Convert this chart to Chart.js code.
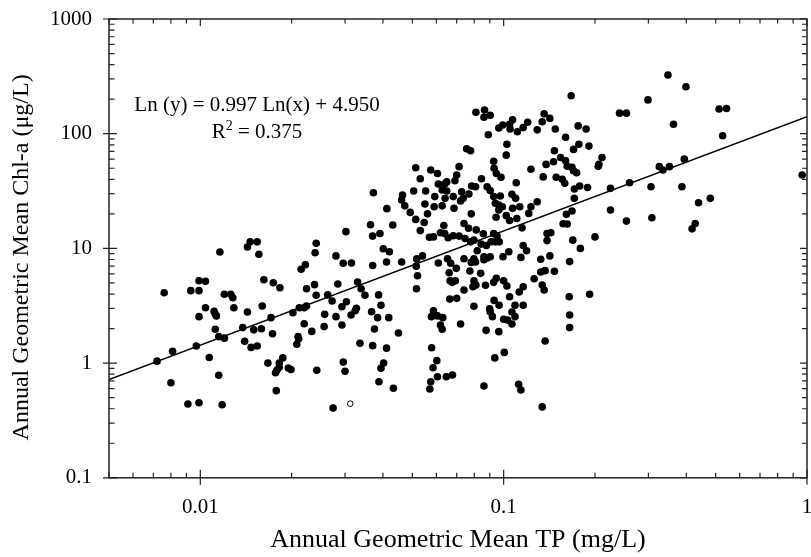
<!DOCTYPE html>
<html>
<head>
<meta charset="utf-8">
<title>Chl-a vs TP</title>
<script src="https://cdn.jsdelivr.net/npm/chart.js@4.4.0/dist/chart.umd.min.js"></script>
<style>
  html, body { margin: 0; padding: 0; overflow: hidden; background: #fff; }
  #wrap { position: absolute; left: 0; top: 0; width: 812px; height: 557px; }
</style>
</head>
<body>
<div id="wrap"><canvas id="myChart" width="812" height="557"></canvas></div>
<script>
//*************** data *******************

// annual geometric mean TP (mg/L), one entry per lake-year
var tpValues = [
  // low TP lakes
  0.0076, 0.0093, 0.0099, 0.0099, 0.0104, 0.0116, 0.0099, 0.0104, 0.0111, 0.0112,
  0.0113, 0.0112, 0.0120, 0.0126, 0.0128, 0.0129, 0.0143, 0.0143, 0.0146, 0.0154,
  0.0156, 0.0162, 0.0160, 0.0174, 0.0183, 0.0171, 0.0173, 0.0138, 0.0150, 0.0159,
  0.0140, 0.0147, 0.0154, 0.0115, 0.0120, 0.0097, 0.0081, 0.0072, 0.0107, 0.0115,
  0.0080, 0.0091, 0.0099, 0.0118, 0.0167, 0.0177, 0.0179, 0.0182, 0.0182, 0.0187,
  0.0195, 0.0199, 0.0178, 0.0202, 0.0212, 0.0220, 0.0224, 0.0220, 0.0233, 0.0210,
  0.0211, 0.0208, 0.0215, 0.0222, 0.0224, 0.0238, 0.0241, 0.0239, 0.0241, 0.0263,
  0.0272, 0.0280, 0.0296, 0.0284, 0.0303, 0.0293, 0.0280, 0.0257, 0.0256, 0.0293,
  0.0296, 0.0300, 0.0242, 0.0274, 0.0302,
  // upper cloud
  0.167, 0.241, 0.254, 0.081, 0.0865, 0.0861, 0.0903, 0.089, 0.0964, 0.0993,
  0.1046, 0.107, 0.105, 0.111, 0.116, 0.120, 0.129, 0.134, 0.136, 0.142,
  0.148, 0.160, 0.176, 0.187, 0.1025, 0.102, 0.0755, 0.0778, 0.0927, 0.093,
  0.0946, 0.098, 0.110, 0.123, 0.138, 0.146, 0.147, 0.154, 0.160, 0.162,
  0.168, 0.170, 0.174, 0.170, 0.177, 0.191, 0.211, 0.206, 0.205, 0.135,
  0.149, 0.156, 0.159, 0.171, 0.178, 0.189, 0.171, 0.168, 0.161, 0.157,
  0.162, 0.225, 0.225, 0.254, 0.169, 0.179, 0.200, 0.139, 0.143, 0.139,
  0.142, 0.1325, 0.115, 0.116, 0.119, 0.104, 0.0995, 0.0513, 0.0531, 0.0575,
  0.0605, 0.0713, 0.070, 0.0691, 0.0649, 0.0609, 0.0639, 0.0627, 0.0649, 0.0593,
  0.0553, 0.0505, 0.0464, 0.0461, 0.0472, 0.0492, 0.0412, 0.0372, 0.0364, 0.037,
  0.0391, 0.0431, 0.0401, 0.042, 0.0513, 0.0531, 0.0547, 0.0561, 0.055, 0.059,
  0.0627, 0.0641, 0.0682, 0.0686, 0.0727, 0.0721, 0.0735, 0.0768, 0.0784, 0.0808,
  0.0845, 0.0882, 0.0903, 0.0927, 0.0975, 0.0939, 0.0964, 0.099, 0.0964, 0.1065,
  0.1095, 0.107, 0.113, 0.123, 0.129, 0.121, 0.102, 0.1046, 0.1105, 0.0944,
  0.0782, 0.074, 0.0766, 0.0812, 0.0857, 0.0927, 0.0951, 0.094, 0.0967, 0.0909,
  0.0877, 0.0843, 0.0798, 0.0778, 0.0746, 0.0713, 0.0682, 0.0656, 0.0639, 0.0619,
  0.0635, 0.0587, 0.0569, 0.0818, 0.0861, 0.0903, 0.074, 0.0798, 0.0653, 0.054,
  0.0517,
  // lower cloud
  0.0315, 0.037, 0.0411, 0.0461, 0.0515, 0.052, 0.0516, 0.033, 0.0339, 0.0349,
  0.0314, 0.0324, 0.0327, 0.0387, 0.0394, 0.0367, 0.0384, 0.0418, 0.0375, 0.045,
  0.0336, 0.037, 0.0411, 0.0394, 0.0402, 0.0388, 0.0433, 0.0609, 0.0669, 0.0698,
  0.0661, 0.0666, 0.0677, 0.0693, 0.074, 0.0664, 0.070, 0.0774, 0.0782, 0.0808,
  0.084, 0.0861, 0.0882, 0.0798, 0.081, 0.0792, 0.0871, 0.0927, 0.0946, 0.0798,
  0.093, 0.0966, 0.0899, 0.0903, 0.0918, 0.0875, 0.0964, 0.100, 0.1025, 0.1046,
  0.109, 0.1065, 0.109, 0.100, 0.103, 0.1065, 0.116, 0.1125, 0.116, 0.126,
  0.134, 0.136, 0.114, 0.1325, 0.137, 0.147, 0.165, 0.1645, 0.165, 0.165,
  0.192, 0.137, 0.1005, 0.0935, 0.0861, 0.112, 0.114, 0.134, 0.0578, 0.0605,
  0.063, 0.0587, 0.0619, 0.0627, 0.0721, 0.0579, 0.0602, 0.0585, 0.0605, 0.0575,
  0.0571, 0.0647, 0.0678,
  // high TP lakes
  0.348, 0.399, 0.299, 0.363, 0.513, 0.543, 0.527, 0.260, 0.306, 0.326,
  0.335, 0.352, 0.394, 0.387, 0.439, 0.480, 0.428, 0.418, 0.308, 0.964
];

// annual geometric mean Chl-a (ug/L), same order as tpValues
var chlValues = [
  4.11, 4.28, 4.28, 5.23, 5.17, 9.3, 2.54, 3.04, 2.83, 2.68,
  2.58, 1.97, 3.98, 3.98, 3.71, 3.04, 2.79, 10.3, 11.4, 11.4,
  8.9, 5.33, 3.15, 5.02, 4.54, 2.49, 1.80, 2.04, 1.95, 1.99,
  1.55, 1.37, 1.41, 1.70, 1.65, 1.41, 1.27, 1.04, 1.12, 0.784,
  0.674, 0.44, 0.451, 0.434, 1.0, 0.825, 0.87, 1.0, 0.919, 1.11,
  0.906, 0.88, 0.575, 2.75, 3.04, 3.04, 3.15, 2.2, 1.89, 1.70,
  1.63, 1.46, 6.58, 7.2, 4.45, 4.83, 3.9, 9.17, 11.1, 3.93,
  3.48, 8.6, 7.42, 4.9, 3.43, 3.1, 2.54, 2.66, 2.08, 2.15,
  1.02, 0.85, 0.865, 0.406, 14.0,

  214, 151, 151, 154, 161, 139, 145, 98, 112, 119,
  121, 132, 110, 104, 113, 126, 108, 127, 149, 136,
  110, 93, 117, 110, 81, 65, 74, 71, 57.5, 50,
  45, 41.7, 37.4, 49, 54, 57, 71, 62, 58, 52,
  51, 47.6, 45.7, 73, 81, 78, 62, 54, 52, 42,
  41.7, 40, 37, 33, 35, 34, 27.3, 21.2, 19.8, 16.4,
  16.3, 33.4, 21.6, 17.3, 11.8, 10.0, 12.6, 13.5, 13.7, 11.7,
  8.6, 8.04, 15.1, 10.6, 9.55, 9.35, 8.45, 50.5, 40.5, 48.3,
  45, 51.6, 43.7, 38.9, 38, 36.4, 36.4, 32.3, 31.7, 28.3,
  31.7, 31.7, 29.2, 26.4, 23.5, 20.6, 22.2, 30.6, 16.1, 12.8,
  13.5, 16.0, 9.94, 9.35, 17.9, 14.3, 16.8, 20, 24.4, 23.1,
  23.5, 27.3, 28.3, 22.4, 31.2, 25.9, 27.3, 29.8, 35, 34.5,
  40.5, 34.5, 31.9, 28.3, 28.6, 24.7, 23.9, 23.1, 21.6, 29.6,
  27.3, 22.4, 23.1, 23.1, 25.5, 20.2, 19.3, 17.5, 18.2, 18.7,
  20, 16.5, 15, 14.5, 13.4, 13.5, 12.8, 11.4, 11.4, 11.4,
  10.6, 10.9, 11.8, 11.4, 12.2, 12.8, 12.9, 12.4, 13.5, 13.7,
  15.8, 12.6, 12.5, 9.55, 8.45, 8.45, 8.13, 8.13, 8.13, 8.6,
  8.1,

  7.45, 7.1, 7.6, 7.6, 7.0, 5.78, 4.45, 5.1, 4.45, 3.9,
  2.63, 2.86, 3.0, 3.93, 3.19, 2.8, 2.49, 2.49, 1.98, 1.83,
  1.49, 1.42, 1.35, 0.90, 1.0, 0.688, 0.603, 7.45, 7.42, 6.7,
  6.14, 5.23, 5.06, 5.23, 4.34, 3.62, 3.67, 6.35, 7.55, 7.6,
  6.06, 7.97, 8.25, 5.23, 4.8, 4.63, 4.77, 5.06, 5.49, 3.13,
  3.52, 3.19, 2.98, 2.8, 2.54, 1.93, 1.88, 5.23, 4.7, 3.79,
  3.19, 2.79, 2.54, 2.41, 2.37, 2.19, 3.19, 4.17, 4.63, 5.44,
  4.8, 4.34, 8.35, 6.23, 6.4, 6.32, 7.67, 3.79, 2.63, 2.04,
  3.98, 1.56, 1.24, 1.11, 0.632, 0.654, 0.583, 0.415, 2.54, 2.58,
  2.49, 2.86, 2.15, 1.97, 2.19, 1.36, 1.05, 0.91, 0.76, 0.688,
  0.595, 0.76, 0.787,

  325, 257, 197, 121, 164, 166, 96, 37.4, 34.5, 51.6,
  48.3, 51.6, 60, 34.5, 25, 27.3, 16.5, 14.8, 18.5, 43.7
];

// the one open-circle point
var openTp = [0.0312];
var openChl = [0.443];

// regression line end points (Ln(y) = 0.997 Ln(x) + 4.950)
var fitTp = [0.005, 1];
var fitChl = [0.72, 141];

var xTicks = [0.01, 0.1, 1];
var yTicks = [0.1, 1, 10, 100, 1000];

var fitLabel = "Ln (y) = 0.997 Ln(x) + 4.950";
var r2Label = "0.375";

//*************** helpers *******************

function toPoints(xs, ys) {
  var out = [];
  var n = Math.min(xs.length, ys.length);
  for (var i = 0; i < n; i++) {
    out.push({ x: xs[i], y: ys[i] });
  }
  return out;
}

var serif = '"Liberation Serif", "Times New Roman", Times, serif';

// frame + log ticks on all four sides, pointing inward
var frameTicks = {
  id: 'frameTicks',
  afterDatasetsDraw: function(chart) {
    var ctx = chart.ctx;
    var a = chart.chartArea;
    var xs = chart.scales.x;
    var ys = chart.scales.y;
    ctx.save();
    ctx.strokeStyle = '#222';
    ctx.lineWidth = 1.2;
    ctx.beginPath();
    for (var d = -3; d <= 0; d++) {
      for (var k = 1; k <= 9; k++) {
        var v = k * Math.pow(10, d);
        if (v < xs.min * 0.999 || v > xs.max * 1.001) continue;
        var px = xs.getPixelForValue(v);
        var big = (k === 1);
        ctx.moveTo(px, a.bottom + (big ? 7 : 0));
        ctx.lineTo(px, a.bottom - (big ? 8 : 5));
        ctx.moveTo(px, a.top);
        ctx.lineTo(px, a.top + (big ? 7 : 4.5));
      }
    }
    for (var e = -1; e <= 3; e++) {
      for (var j = 1; j <= 9; j++) {
        var w = j * Math.pow(10, e);
        if (w < ys.min * 0.999 || w > ys.max * 1.001) continue;
        var py = ys.getPixelForValue(w);
        var major = (j === 1);
        ctx.moveTo(a.left - (major ? 6 : 0), py);
        ctx.lineTo(a.left + (major ? 8 : 5.5), py);
        ctx.moveTo(a.right, py);
        ctx.lineTo(a.right - (major ? 7 : 5), py);
      }
    }
    ctx.stroke();
    ctx.lineWidth = 1.5;
    ctx.strokeRect(a.left, a.top, a.right - a.left, a.bottom - a.top);
    ctx.restore();
  }
};

// equation text in the upper left
var fitText = {
  id: 'fitText',
  afterDraw: function(chart) {
    var ctx = chart.ctx;
    var a = chart.chartArea;
    var cx = a.left + 148;
    ctx.save();
    ctx.fillStyle = '#000';
    ctx.font = '21px ' + serif;
    ctx.textBaseline = 'alphabetic';
    ctx.textAlign = 'center';
    ctx.fillText(fitLabel, cx, a.top + 91.5);

    // R^2 line, built from pieces so the 2 can sit raised
    ctx.textAlign = 'left';
    var rest = " = " + r2Label;
    var wR = ctx.measureText("R").width;
    var wRest = ctx.measureText(rest).width;
    ctx.font = '14px ' + serif;
    var w2 = ctx.measureText("2").width;
    var x0 = cx - (wR + w2 + wRest) / 2;
    var base = a.top + 118.5;
    ctx.font = '21px ' + serif;
    ctx.fillText("R", x0, base);
    ctx.font = '14px ' + serif;
    ctx.fillText("2", x0 + wR, base - 8);
    ctx.font = '21px ' + serif;
    ctx.fillText(rest, x0 + wR + w2, base);
    ctx.restore();
  }
};

//*************** chart *******************

var myChart = document.getElementById("myChart").getContext("2d");
var scatterChart = new Chart(myChart, {
  type: 'scatter',
  data: {
    datasets: [{
      label: 'fit',
      data: toPoints(fitTp, fitChl),
      showLine: true,
      borderColor: '#000',
      borderWidth: 1.5,
      pointRadius: 0,
      fill: false,
      order: 0
    }, {
      label: 'lakes',
      data: toPoints(tpValues, chlValues),
      backgroundColor: '#000',
      borderWidth: 0,
      pointRadius: 3.8,
      order: 1
    }, {
      label: 'open',
      data: toPoints(openTp, openChl),
      backgroundColor: '#fff',
      borderColor: '#000',
      borderWidth: 1,
      pointRadius: 2.8,
      order: 1
    }]
  },
  options: {
    responsive: false,
    animation: false,
    events: [],
    layout: { padding: { top: 19, left: 0, right: 0, bottom: 0 } },
    plugins: {
      legend: { display: false },
      tooltip: { enabled: false }
    },
    scales: {
      x: {
        type: 'logarithmic',
        position: 'bottom',
        min: 0.005,
        max: 1,
        grid: { display: false, drawTicks: false },
        border: { display: false },
        afterBuildTicks: function(s) {
          s.ticks = xTicks.map(function(v) { return { value: v }; });
        },
        afterFit: function(s) {
          s.height = 79.2;
          s.paddingLeft = 0;
          s.paddingRight = 0;
        },
        ticks: {
          autoSkip: false,
          maxRotation: 0,
          padding: 17,
          color: '#000',
          font: { family: serif, size: 21 },
          callback: function(v) { return String(v); }
        },
        title: {
          display: true,
          text: 'Annual Geometric Mean TP (mg/L)',
          color: '#000',
          font: { family: serif, size: 26 },
          padding: { top: 0, bottom: 1 }
        }
      },
      y: {
        type: 'logarithmic',
        position: 'left',
        min: 0.1,
        max: 1000,
        grid: { display: false, drawTicks: false },
        border: { display: false },
        afterBuildTicks: function(s) {
          s.ticks = yTicks.map(function(v) { return { value: v }; });
        },
        afterFit: function(s) {
          s.width = 109;
          s.paddingTop = 0;
          s.paddingBottom = 0;
        },
        ticks: {
          autoSkip: false,
          padding: 17,
          color: '#000',
          font: { family: serif, size: 21 },
          callback: function(v) { return String(v); }
        },
        title: {
          display: true,
          // trailing no-break spaces nudge the rotated title down a little
          text: 'Annual Geometric Mean Chl-a (\u03bcg/L)\u00a0\u00a0\u00a0',
          color: '#000',
          font: { family: serif, size: 24 },
          padding: { top: 7, bottom: 0 }
        }
      }
    }
  },
  plugins: [frameTicks, fitText]
});
</script>
</body>
</html>
